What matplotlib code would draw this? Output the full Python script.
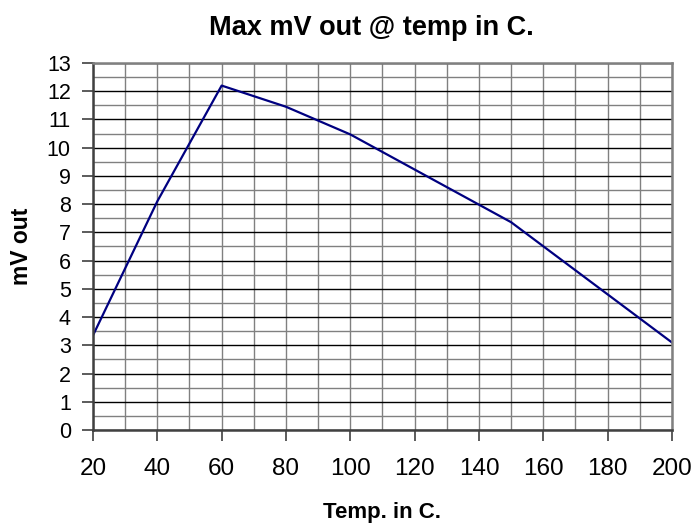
import matplotlib
matplotlib.use("Agg")
import matplotlib.pyplot as plt
from matplotlib.ticker import MultipleLocator

plt.rcParams['font.family'] = ['Liberation Sans', 'DejaVu Sans']

temp = [20, 40, 60, 80, 100, 150, 200]
mv_out = [3.35, 8.1, 12.2, 11.45, 10.47, 7.36, 3.1]

fig = plt.figure(figsize=(6.95, 5.25), dpi=100)
ax = fig.add_axes([0.1338, 0.181, 0.833, 0.699])

ax.set_xlim(20, 200)
ax.set_ylim(0, 13)

# grid: black at whole mV, grey at halves, grey verticals every 10
ax.xaxis.set_major_locator(MultipleLocator(20))
ax.xaxis.set_minor_locator(MultipleLocator(10))
ax.yaxis.set_major_locator(MultipleLocator(1))
ax.yaxis.set_minor_locator(MultipleLocator(0.5))
ax.grid(which='major', axis='y', color='black', linewidth=1.0)
ax.grid(which='minor', axis='y', color='#808080', linewidth=1.0)
ax.grid(which='both', axis='x', color='#808080', linewidth=1.0)
ax.set_axisbelow(True)

ax.plot(temp, mv_out, color='#000080', linewidth=1.6)

for s in ['left', 'bottom']:
    ax.spines[s].set_color('#404040')
    ax.spines[s].set_linewidth(1.8)
for s in ['top', 'right']:
    ax.spines[s].set_color('#808080')
    ax.spines[s].set_linewidth(1.8)

ax.tick_params(axis='x', which='major', direction='out', length=8, width=1.2,
               color='#404040', labelsize=17.5, pad=12)
ax.tick_params(axis='y', which='major', direction='out', length=8, width=1.2,
               color='#404040', labelsize=15.5, pad=8)
ax.tick_params(which='minor', length=0)

ax.set_title('Max mV out @ temp in C.', fontsize=19.5, fontweight='bold', pad=20,
             x=0.48)
ax.set_xlabel('Temp. in C.', fontsize=16, fontweight='bold', labelpad=16)
ax.set_ylabel('mV out', fontsize=16.5, fontweight='bold', labelpad=10)

fig.savefig('out.png', dpi=100)
